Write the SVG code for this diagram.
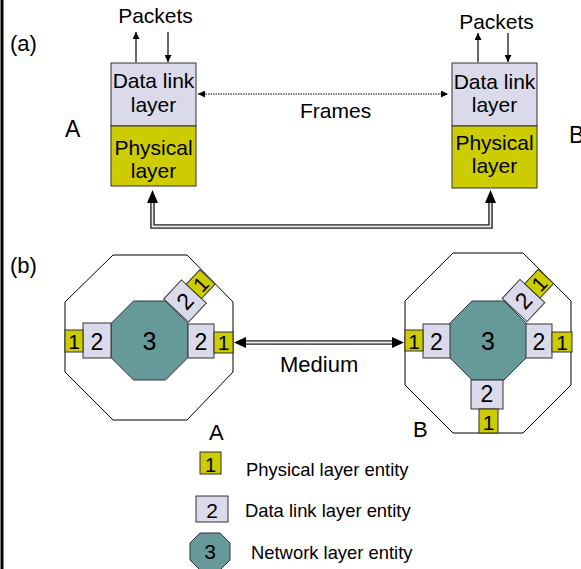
<svg xmlns="http://www.w3.org/2000/svg" width="581" height="569" viewBox="0 0 581 569">
  <defs>
    <marker id="headSmall" viewBox="0 0 10 10" refX="10" refY="5" markerWidth="7" markerHeight="7" orient="auto-start-reverse" markerUnits="userSpaceOnUse">
      <path d="M0,0 L10,5 L0,10 Z" fill="#000"/>
    </marker>
  </defs>
  <style>
    text { font-family: "Liberation Sans", Arial, sans-serif; fill: #000; }
    .lbl { font-size: 21px; }
    .big { font-size: 22px; }
    .mid { text-anchor: middle; }
    .leg { font-size: 18.4px; }
    .phy { fill: #cccc00; stroke: #333; stroke-width: 1; }
    .dll { fill: #dadaeb; stroke: #333; stroke-width: 1; }
    .net { fill: #669999; stroke: #333; stroke-width: 1; }
    .host { fill: #fff; stroke: #000; stroke-width: 1; }
    .d1 { font-size: 21px; text-anchor: middle; }
    .d2 { font-size: 23px; text-anchor: middle; }
    .d3 { font-size: 25px; text-anchor: middle; }
    .arrow { stroke: #000; stroke-width: 1.2; fill: none; }
    .dbl-out { stroke: #222; stroke-width: 4.5; fill: none; }
    .dbl-in { stroke: #e8e8e8; stroke-width: 1.8; fill: none; }
  </style>

  <rect width="581" height="569" fill="#fff"/>
  <!-- left frame border -->
  <line x1="2" y1="0" x2="2" y2="569" stroke="#000" stroke-width="3"/>

  <!-- (a) layer stacks -->
  <text class="big" x="10" y="51">(a)</text>
  <text class="big" x="65" y="137" style="font-size:23px">A</text>
  <text class="big" x="569" y="143" style="font-size:23px">B</text>
  <text class="lbl" x="300" y="118">Frames</text>

  <g id="stackA">
    <text class="lbl mid" x="155.5" y="23">Packets</text>
    <rect class="dll" x="111" y="63" width="85" height="63"/>
    <rect class="phy" x="111" y="126" width="85" height="60"/>
    <text class="lbl mid" x="153.5" y="88">Data link</text>
    <text class="lbl mid" x="153.5" y="112">layer</text>
    <text class="lbl mid" x="153.5" y="155">Physical</text>
    <text class="lbl mid" x="153.5" y="178">layer</text>
  </g>

  <g id="stackB">
    <text class="lbl mid" x="496.5" y="29">Packets</text>
    <rect class="dll" x="452" y="63" width="85" height="63"/>
    <rect class="phy" x="452" y="126" width="85" height="62"/>
    <text class="lbl mid" x="494.5" y="89">Data link</text>
    <text class="lbl mid" x="494.5" y="112">layer</text>
    <text class="lbl mid" x="494.5" y="150">Physical</text>
    <text class="lbl mid" x="494.5" y="173">layer</text>
  </g>

  <!-- (b) entity views -->
  <text class="big" x="10" y="273">(b)</text>
  <text class="lbl" x="280" y="372" style="font-size:22px">Medium</text>
  <text class="big" x="209" y="440">A</text>
  <text class="big" x="413" y="437">B</text>

  <g id="hostA">
    <polygon class="host" points="113,255 187,255 233,302 233,372 187,420 113,420 65,372 65,302"/>
    <polygon class="net" points="133.5,301 165.5,301 188,323.5 188,357.5 165.5,380 133.5,380 111,357.5 111,323.5"/>
    <text class="d3" x="149.5" y="350">3</text>
    <rect class="dll" x="83" y="323" width="28" height="35"/>
    <text class="d2" x="97" y="350">2</text>
    <rect class="phy" x="65" y="330" width="18" height="22"/>
    <text class="d1" x="74" y="349">1</text>
    <rect class="dll" x="188" y="324" width="26" height="34"/>
    <text class="d2" x="201" y="350">2</text>
    <rect class="phy" x="214" y="332" width="19" height="21"/>
    <text class="d1" x="223.5" y="350">1</text>
    <g transform="translate(185,301) rotate(-47)">
      <rect class="dll" x="-13" y="-17" width="26" height="34"/>
      <text class="d2" x="0" y="8">2</text>
      <rect class="phy" x="13" y="-10.5" width="20" height="21"/>
      <text class="d1" x="23" y="7.5">1</text>
    </g>
  </g>

  <g id="hostB">
    <polygon class="host" points="453,253 523,253 571,301 571,385 523,433 453,433 405,385 405,301"/>
    <polygon class="net" points="472,301 504,301 526.5,323.5 526.5,357.5 504,380 472,380 449.5,357.5 449.5,323.5"/>
    <text class="d3" x="488" y="350">3</text>
    <rect class="dll" x="423" y="324" width="27" height="34"/>
    <text class="d2" x="436.5" y="350">2</text>
    <rect class="phy" x="405" y="330" width="18" height="21"/>
    <text class="d1" x="414" y="349">1</text>
    <rect class="dll" x="526" y="324" width="26" height="34"/>
    <text class="d2" x="539" y="350">2</text>
    <rect class="phy" x="552" y="332" width="20" height="20"/>
    <text class="d1" x="562" y="350">1</text>
    <rect class="dll" x="471" y="380" width="32" height="29"/>
    <text class="d2" x="487" y="402">2</text>
    <rect class="phy" x="479" y="409" width="19" height="24"/>
    <text class="d1" x="488.5" y="430">1</text>
    <g transform="translate(523.5,300.5) rotate(-47)">
      <rect class="dll" x="-13" y="-17" width="26" height="34"/>
      <text class="d2" x="0" y="8">2</text>
      <rect class="phy" x="13" y="-10.5" width="20" height="21"/>
      <text class="d1" x="23" y="7.5">1</text>
    </g>
  </g>

  <!-- legend -->
  <g id="legendPhy">
    <rect class="phy" x="200" y="452" width="21" height="22"/>
    <text class="d1" x="210.5" y="472" style="font-size:20px">1</text>
    <text class="leg" x="246" y="476">Physical layer entity</text>
  </g>
  <g id="legendDll">
    <rect class="dll" x="196" y="496" width="32" height="26"/>
    <text class="d1" x="212" y="518">2</text>
    <text class="leg" x="245" y="517">Data link layer entity</text>
  </g>
  <g id="legendNet">
    <polygon class="net" points="200,533 220,533 230,543 230,560 220,570 200,570 190,560 190,543"/>
    <text class="d1" x="210" y="559">3</text>
    <text class="leg" x="251" y="559">Network layer entity</text>
  </g>

  <!-- connectors -->
  <g id="connectors">
    <!-- packet flows -->
    <line class="arrow" x1="136" y1="62" x2="136" y2="32" marker-end="url(#headSmall)"/>
    <line class="arrow" x1="168" y1="32" x2="168" y2="62" marker-end="url(#headSmall)"/>
    <line class="arrow" x1="478" y1="62" x2="478" y2="33" marker-end="url(#headSmall)"/>
    <line class="arrow" x1="508" y1="33" x2="508" y2="62" marker-end="url(#headSmall)"/>
    <!-- frames (logical link) -->
    <line x1="198" y1="94" x2="448" y2="94" stroke="#000" stroke-width="1" stroke-dasharray="1.5,1" marker-start="url(#headSmall)" marker-end="url(#headSmall)"/>
    <!-- physical medium between stacks -->
    <path class="dbl-out" d="M152.5,202 V226.5 H490.5 V202"/>
    <path class="dbl-in" d="M152.5,202 V226.5 H490.5 V202"/>
    <polygon points="152.5,190 147,203 158,203" fill="#000"/>
    <polygon points="490.5,190 485,203 496,203" fill="#000"/>
    <!-- medium between hosts -->
    <path class="dbl-out" d="M244,342.5 H394"/>
    <path class="dbl-in" d="M244,342.5 H394"/>
    <polygon points="234,342.5 246,337 246,348" fill="#000"/>
    <polygon points="404,342.5 392,337 392,348" fill="#000"/>
  </g>
</svg>
